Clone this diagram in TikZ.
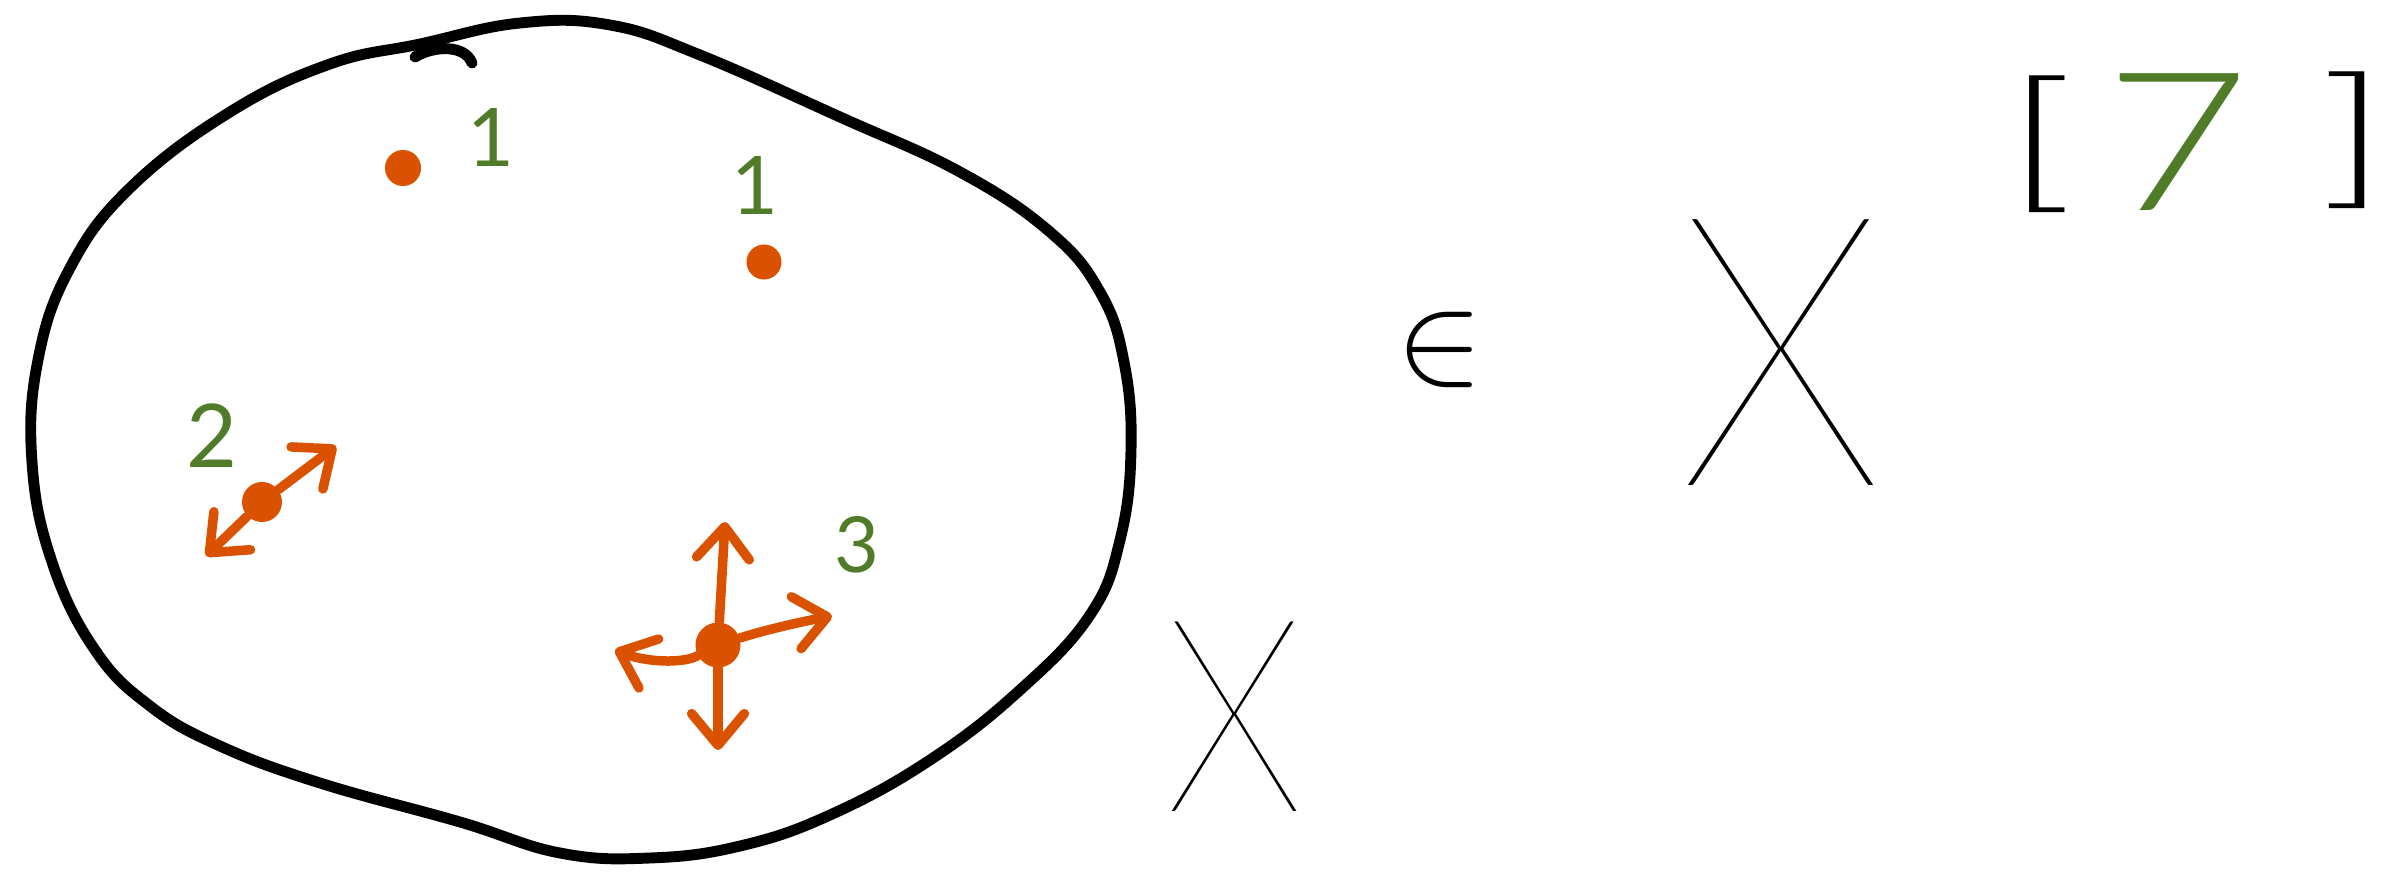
\RequirePackage{fix-cm}
\documentclass[tikz,border=0pt]{standalone}
\usepackage{fontspec}
\usetikzlibrary{arrows.meta}
\IfFontExistsTF{Lato Thin}{\newfontfamily\handthin{Lato Thin}}{%
  \IfFontExistsTF{Lato Hairline}{\newfontfamily\handthin{Lato Hairline}}{%
    \IfFontExistsTF{Lato Light}{\newfontfamily\handthin{Lato Light}}{\newfontfamily\handthin{Lato}}}}
\IfFontExistsTF{Lato Light}{\newfontfamily\handlight{Lato Light}}{\newfontfamily\handlight{Lato}}
\newfontfamily\handreg{Lato}
\definecolor{sketchorange}{RGB}{218,82,0}
\definecolor{sketchgreen}{RGB}{80,123,40}
\begin{document}
\begin{tikzpicture}[x=0.01cm,y=-0.01cm,
  outline/.style={line width=3.1pt,line cap=round,line join=round},
  arr/.style={draw=sketchorange,line width=2.7pt,line cap=round,
    -{Straight Barb[length=9pt,width=15pt,round]}},
  pdot/.style={circle,fill=sketchorange,inner sep=0pt,minimum size=#1},
  digit/.style={text=sketchgreen,inner sep=0pt,font=\handreg\fontsize{23}{23}\selectfont},
  hand/.style={inner sep=0pt}]
\fill[white] (0,0) rectangle (2396,879);
\useasboundingbox (0,0) rectangle (2396,879);

% the set (blob)
\draw[outline] plot[smooth cycle,tension=0.7] coordinates {
  (420,44) (520,23) (610,25) (700,55) (840,117) (960,172) (1050,232)
  (1100,292) (1124,362) (1131,450) (1120,540) (1090,615) (1020,690)
  (930,760) (830,815) (740,846) (650,858) (560,853) (460,822) (320,783)
  (220,746) (150,706) (95,650) (52,562) (32,462) (38,360) (70,268)
  (130,188) (230,112) (330,64)};
\draw[outline] (415,57) .. controls (435,45) and (465,45) .. (472,63);

% points
\node[pdot=0.36cm] (d1) at (403,168) {};
\node[pdot=0.35cm] (d1b) at (764,262) {};
\node[pdot=0.40cm] (d2) at (262,502) {};
\node[pdot=0.45cm] (d3) at (718,645) {};

% arrow ends
\coordinate (e2a) at (336,446);
\coordinate (e2b) at (206,556);
\coordinate (e3u) at (725,522);
\coordinate (e3d) at (718,750);
\coordinate (e3l) at (615,650);
\coordinate (e3r) at (832,616);

\draw[arr] (d2) -- (e2a);
\draw[arr] (d2) -- (e2b);
\draw[arr] (d3) -- (e3u);
\draw[arr] (d3) -- (e3d);
\draw[arr] (d3) .. controls (682,664) and (645,662) .. (e3l);
\draw[arr] (d3) .. controls (765,630) and (800,622) .. (e3r);

% green multiplicities
\node[digit] (m1) at (491,137) {1};
\node[digit] (m1b) at (755,185) {1};
\node[digit,font=\handreg\fontsize{25}{25}\selectfont] (m2) at (212,436) {2};
\node[digit,font=\handreg\fontsize{22}{22}\selectfont] (m3) at (857,545) {3};

% X below the set
\node[hand,xscale=0.85,font=\handthin\fontsize{77}{77}\selectfont] (xlow) at (1235,717) {X};

% element-of symbol and X^[7]
\node[hand] (elem) at (1440,350) {\fontsize{37}{37}\selectfont$\in$};
\node[hand,xscale=0.9,font=\handthin\fontsize{108}{108}\selectfont] (xbig) at (1781,353) {X};
\node[hand,xscale=2,font=\rmfamily\fontsize{39}{39}\selectfont] (lb) at (2035,144) {[};
\node[hand,xscale=1.3,text=sketchgreen,font=\handlight\fontsize{55}{55}\selectfont] (seven) at (2177,142) {7};
\node[hand,xscale=2,font=\rmfamily\fontsize{39}{39}\selectfont] (rb) at (2360,140) {]};
\end{tikzpicture}
\end{document}
